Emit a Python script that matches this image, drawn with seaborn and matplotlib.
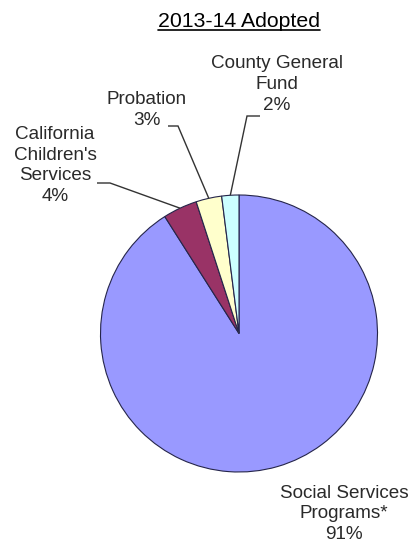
import matplotlib
matplotlib.use("Agg")
import matplotlib.pyplot as plt
import seaborn as sns
import numpy as np

# Budget shares by program
categories = ["Social Services\nPrograms*", "California\nChildren's\nServices",
              "Probation", "County General\nFund"]
shares = [91, 4, 3, 2]
colors = ["#9999FF", "#993366", "#FFFFCC", "#CCFFFF"]
title = "2013-14 Adopted"

sns.set_style("white")
plt.rcParams["font.family"] = ["Liberation Sans", "DejaVu Sans"]

W, H = 412, 546
fig = plt.figure(figsize=(W / 100, H / 100), dpi=100)
ax = fig.add_axes([0, 0, 1, 1])


def py(y):
    """Convert a top-down pixel row to the axes' bottom-up y."""
    return H - y


cx, cy, r = 239, py(333.5), 138.5
wedges, _ = ax.pie(shares, colors=colors, startangle=90, counterclock=False,
                   center=(cx, cy), radius=r,
                   wedgeprops=dict(edgecolor="#25254a", linewidth=0.8))
ax.set_xlim(0, W)
ax.set_ylim(0, H)
ax.set_aspect("equal")
ax.axis("off")

text_color = "#2a2a2a"
label_size = 13.6

# label layout: text centre (x, y) and, optionally, leader elbow and end
layout = [
    dict(xy=(344, 514), leader=None),
    dict(xy=(55, 165.5), leader=((110, 183), (97, 183))),
    dict(xy=(147, 110), leader=((178, 126), (168, 126))),
    dict(xy=(277, 84.5), leader=((247, 116), (260, 116))),
]

for w, name, v, lay in zip(wedges, categories, shares, layout):
    tx, ty = lay["xy"]
    ax.text(tx, py(ty), f"{name}\n{v}%", ha="center", va="center",
            multialignment="center", fontsize=label_size, color=text_color,
            linespacing=1.3)
    if lay["leader"] is not None:
        mid = np.deg2rad((w.theta1 + w.theta2) / 2)
        ex, ey = cx + r * np.cos(mid), cy + r * np.sin(mid)
        (bx, by), (kx, ky) = lay["leader"]
        ax.plot([ex, bx, kx], [ey, py(by), py(ky)], color="#333333", lw=1.0,
                solid_capstyle="butt", solid_joinstyle="miter")

t = ax.text(239, py(27), title, ha="center", va="baseline", fontsize=15.3,
            color="black")
fig.canvas.draw()
bb = t.get_window_extent()
ax.plot([bb.x0, bb.x1], [py(29.5), py(29.5)], color="black", lw=1.2)

fig.savefig("out.png", dpi=100)
